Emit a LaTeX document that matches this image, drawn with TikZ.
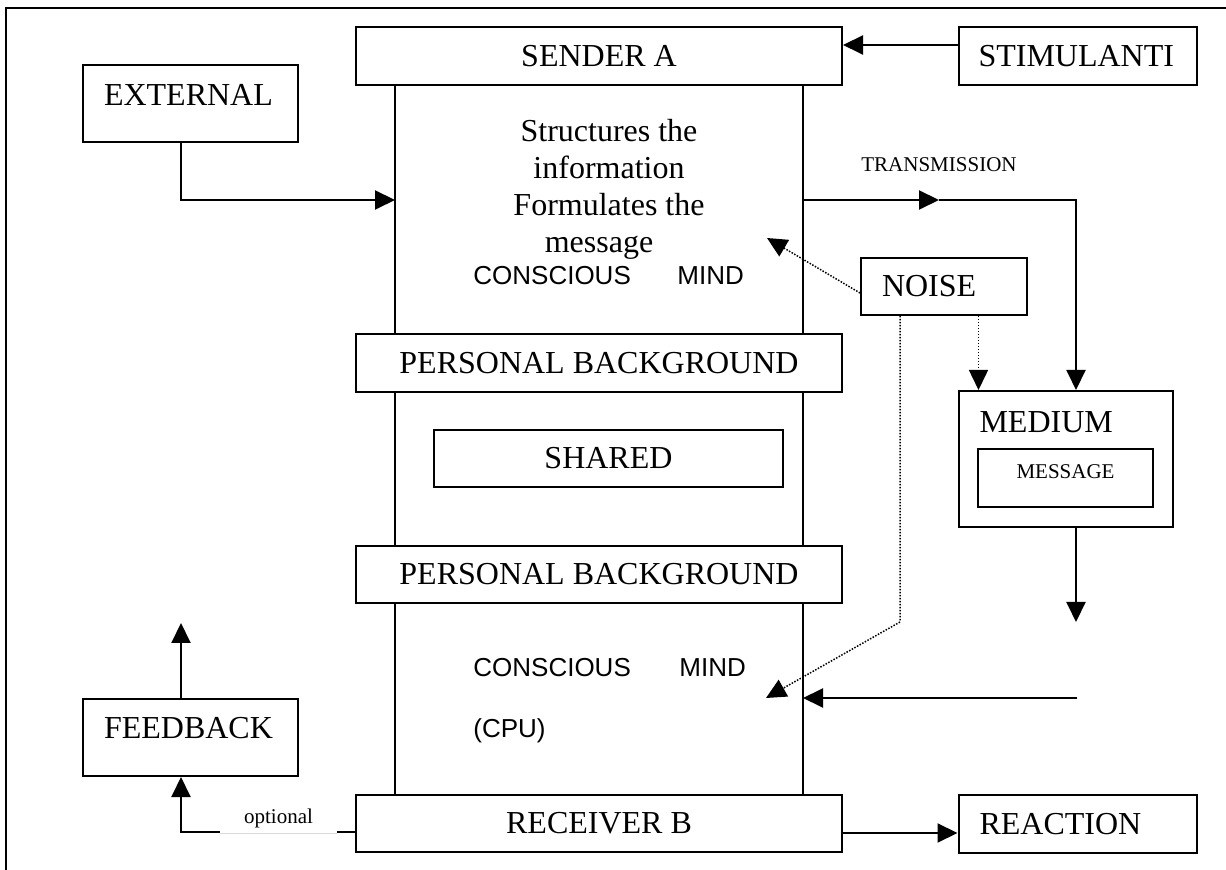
\documentclass[tikz,border=0pt]{standalone}
\usepackage{fontspec}
\setmainfont{Liberation Serif}
\newfontfamily\arialf{Liberation Sans}
\usetikzlibrary{arrows.meta,calc}
\tikzset{
  box/.style={draw, line width=1pt, inner sep=0pt, font=\fontsize{16}{18}\selectfont},
  lbox/.style={box, align=left},
  txt/.style={inner sep=0pt, font=\fontsize{16}{18}\selectfont},
  small/.style={inner sep=0pt, font=\fontsize{10.5}{12}\selectfont},
  sans/.style={inner sep=0pt, font=\arialf\fontsize{13}{15}\selectfont},
  conn/.style={line width=1pt},
  arr/.style={conn, -{Triangle[length=10pt, width=9.5pt]}},
  dotline/.style={line width=0.75pt, dash pattern=on 0.75pt off 0.75pt},
  frame/.style={line width=1.25pt}
}
\begin{document}
\begin{tikzpicture}[x=0.5pt, y=-0.5pt]
\useasboundingbox (0,0) rectangle (1226,870);
% frame
\draw[frame] (1226,8) -- (6,8) -- (6,870);

% boxes
\node[box, minimum width=243pt, minimum height=29pt] (sender) at (599,56) {SENDER A};
\node[lbox, minimum width=119.25pt, minimum height=29pt, text width=99.25pt] (stim) at (1077.75,56) {STIMULANTI};
\node[lbox, minimum width=107.5pt, minimum height=38.5pt, text width=86.5pt, text depth=8.5pt] (ext) at (190.5,103.5) {EXTERNAL};
\node[lbox, minimum width=83pt, minimum height=28.5pt, text width=62pt] (noise) at (944,286.5) {NOISE};
\node[box, minimum width=243pt, minimum height=29pt] (pb1) at (599,363) {PERSONAL BACKGROUND};
\node[box, minimum width=174.5pt, minimum height=28.5pt] (shared) at (608.5,458.5) {SHARED};
\node[lbox, minimum width=107.25pt, minimum height=68pt, text width=86.25pt, text depth=37pt] (medium) at (1065.75,459) {MEDIUM};
\node[box, minimum width=87.5pt, minimum height=29pt, text depth=6pt, font=\fontsize{10.5}{12}\selectfont] (message) at (1065.5,478) {MESSAGE};
\node[box, minimum width=243pt, minimum height=28.5pt] (pb2) at (599,574.5) {PERSONAL BACKGROUND};
\node[lbox, minimum width=107.5pt, minimum height=38.5pt, text width=86.5pt, text depth=9.5pt] (fb) at (190.5,737.5) {FEEDBACK};
\node[box, minimum width=243pt, minimum height=28.5pt] (rcv) at (599,823.5) {RECEIVER B};
\node[lbox, minimum width=119.25pt, minimum height=29pt, text width=98.25pt] (react) at (1077.75,824) {REACTION};

% texts in the sender column
\node[txt, anchor=base] (s1) at (609,142) {Structures the};
\node[txt, anchor=base] (s2) at (609,179) {information};
\node[txt, anchor=base] (s3) at (609,216) {Formulates the};
\node[txt, anchor=base] (s4) at (599,253) {message};
\node[sans, anchor=base west] (c1) at (473,285) {CONSCIOUS};
\node[sans, anchor=base west] (m1) at (677,285) {MIND};
\node[sans, anchor=base west] (c2) at (473,677) {CONSCIOUS};
\node[sans, anchor=base west] (m2) at (679,677) {MIND};
\node[sans, anchor=base west] (cpu) at (473,738) {(CPU)};
\node[small, anchor=base west] (trans) at (861,172) {TRANSMISSION};

% column lines
\coordinate (L) at (395,0);
\coordinate (R) at (803,0);
\foreach \c in {L,R} {
  \draw[conn] (sender.south -| \c) -- (pb1.north -| \c);
  \draw[conn] (pb1.south -| \c) -- (pb2.north -| \c);
  \draw[conn] (pb2.south -| \c) -- (rcv.north -| \c);
}

% helper coordinates
\coordinate (xa) at (181,0);
\coordinate (extin) at (395,200);
\coordinate (sy) at (0,45);
\coordinate (tmid) at (939,200);
\coordinate (tcorner) at (1076,200);
\coordinate (mdown) at (1076,622);
\coordinate (rin) at (1077,698);
\coordinate (ny) at (0,293);
\coordinate (n1tip) at (767,238);
\coordinate (nx1) at (978.5,0);
\coordinate (nbend) at (900,622);
\coordinate (n2tip) at (766,698);
\coordinate (fbup) at (181,623);
\coordinate (opty) at (0,832);
\coordinate (ry) at (0,833);

% connectors
\draw[arr] (ext.south -| xa) |- (extin);
\draw[arr] (stim.west |- sy) -- (sender.east |- sy);
\draw[arr] (R |- tmid) -- (tmid);
\draw[arr] (tmid) -- (tcorner) -- (tcorner |- medium.north);
\draw[arr] (medium.south -| tcorner) -- (mdown);
\draw[arr] (rin) -- (R |- rin);
\draw[dotline, arr, line width=0.75pt] (noise.west |- ny) -- (n1tip);
\draw[dotline, arr, line width=0.75pt] (noise.south -| nx1) -- (medium.north -| nx1);
\draw[dotline, arr, line width=0.75pt] (noise.south -| nbend) -- (nbend) -- (n2tip);
\draw[arr] (fb.north -| xa) -- (fbup);
\draw[arr] (rcv.west |- opty) -| (fb.south -| xa);
\draw[arr] (rcv.east |- ry) -- (react.west |- ry);

% optional label
\node[small, fill=white, anchor=base, minimum width=58.5pt, inner ysep=5pt, text depth=0pt] (opt) at (278.5,823) {optional};
\draw[line width=0.5pt, black!15] (opt.south west) -- (opt.south east);
\end{tikzpicture}
\end{document}
